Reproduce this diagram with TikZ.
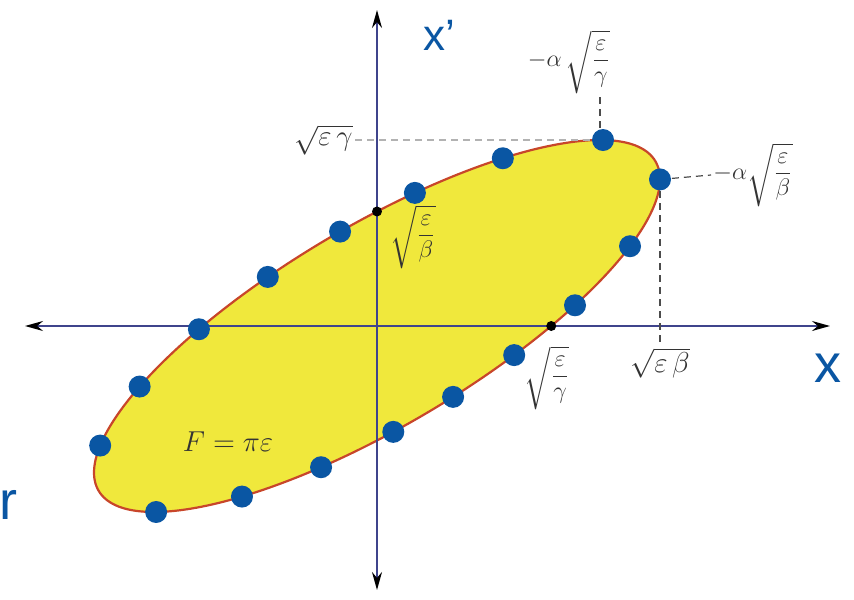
\documentclass[tikz,border=0pt]{standalone}
\usepackage{amsmath,amssymb}
\usepackage{fontspec}
\newfontfamily\blfont{Liberation Sans}
\usepackage{xcolor}
\usetikzlibrary{arrows.meta,positioning}
\definecolor{ellfill}{HTML}{F0E83C}
\definecolor{ellline}{HTML}{C8462A}
\definecolor{dotblue}{HTML}{0A56A3}
\definecolor{axcol}{HTML}{3F448C}

\begin{document}
\begin{tikzpicture}[x=0.5pt, y=0.5pt,
  ax/.style={line width=0.8pt, draw=axcol, arrows={Stealth[length=9pt,width=5pt,color=black]-Stealth[length=9pt,width=5pt,color=black]}},
  ell/.style={fill=ellfill, draw=ellline, line width=1.1pt},
  bdot/.style={fill=dotblue},
  kdot/.style={fill=black},
  lgt/.style={draw=black!30, line width=0.7pt, dash pattern=on 3.5pt off 2.5pt},
  dk/.style={draw=black!70, line width=0.6pt, dash pattern=on 3.5pt off 2.5pt},
  lb/.style={text=black!80, inner sep=1pt, font=\fontsize{15}{18}\selectfont},
  fr/.style={lb, font=\fontsize{13}{16}\selectfont},
  bl/.style={text=dotblue, inner sep=0pt, font=\blfont\fontsize{27}{30}\selectfont}]
\useasboundingbox (-377,-273) rectangle (477,326);
% phase space ellipse
\draw[ell] plot[domain=0:360, samples=121, smooth] ({283*cos(\x)},{186*cos(\x-38)}) -- cycle;
\coordinate (o) at (0,0);
\coordinate (xw) at (-352,0);
\coordinate (xe) at (453,0);
\coordinate (ys) at (0,-264);
\coordinate (yn) at (0,316);
\draw[ax] (xw) -- (xe);
\draw[ax] (ys) -- (yn);
\coordinate (top) at ({283*cos(38)},186);
\coordinate (rt) at (283,{186*cos(38)});
\coordinate (yi) at (0,{186*cos(52)});
\coordinate (xi) at ({283*cos(52)},0);
% labels
\node[lb, anchor=east] (lgam) at (-22,186) {$\sqrt{\varepsilon\,\gamma}$};
\node[fr] (lagam) at (192,264) {$-\alpha\,\sqrt{\dfrac{\varepsilon}{\gamma}}$};
\node[fr] (lbet) at (36,89) {$\sqrt{\dfrac{\varepsilon}{\beta}}$};
\node[fr] (labet) at (376,151) {$-\alpha\sqrt{\dfrac{\varepsilon}{\beta}}$};
\node[lb] (lepb) at (283,-37) {$\sqrt{\varepsilon\,\beta}$};
\node[fr] (lepg) at (170,-52) {$\sqrt{\dfrac{\varepsilon}{\gamma}}$};
\node[lb] (area) at (-149,-116) {$F=\pi\varepsilon$};
\node[bl, font=\blfont\fontsize{22}{26}\selectfont] (xp) at (62,291) {x’};
\node[bl] (xx) at (451,-42) {x};
\node[bl, anchor=west] (rr) at (-378,-179) {r};
% dashed guides
\draw[lgt] (lgam.east) -- (top);
\draw[dk] (top) -- (top |- lagam.south);
\draw[dk] (rt) -- (labet.west);
\draw[dk] (rt) -- (rt |- lepb.north);
% marked points
\foreach \p in {top,rt,yi,xi}
  \fill[kdot] (\p) circle (2.5pt);
\foreach \t in {0,37,63.6,82.3,97.5,112.7,129,147,168,218.7,241.5,258.6,273.3,285.6,299,314.4,333.4}
  \fill[bdot] ({283*cos(\t)},{186*cos(\t-38)}) circle (5.5pt);
\end{tikzpicture}
\end{document}
